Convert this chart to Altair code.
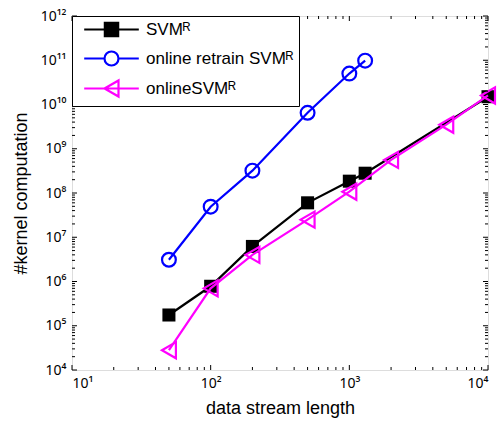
import altair as alt
import pandas as pd
import json

# ---------------- data ----------------
series_names = ["SVM\u1d3f", "online retrain SVM\u1d3f", "onlineSVM\u1d3f"]
series_colors = ["#000000", "#0000ff", "#ff00ff"]

x_svm = [50, 100, 200, 500, 1000, 1300, 10000]
y_svm = [1.75e5, 7.8e5, 6.2e6, 6.0e7, 1.85e8, 2.8e8, 1.5e10]

x_retrain = [50, 100, 200, 500, 1000, 1300]
y_retrain = [3.1e6, 4.9e7, 3.2e8, 6.5e9, 5.0e10, 9.8e10]

x_online = [50, 100, 200, 500, 1000, 2000, 5000, 10000]
y_online = [2.8e4, 7.0e5, 4.0e6, 2.5e7, 1.07e8, 5.6e8, 3.5e9, 1.6e10]

x_major = [10, 100, 1000, 10000]
x_tick_labels = ["10\u00b9", "10\u00b2", "10\u00b3", "10\u2074"]
y_major = [1e4, 1e5, 1e6, 1e7, 1e8, 1e9, 1e10, 1e11, 1e12]
y_tick_labels = ["10\u2074", "10\u2075", "10\u2076", "10\u2077", "10\u2078", "10\u2079",
                 "10\u00b9\u2070", "10\u00b9\u00b9", "10\u00b9\u00b2"]
minor_mult = [2, 3, 4, 5, 6, 7, 8, 9]

W, H = 416, 354

x_minor = [m * v for v in x_major[:-1] for m in minor_mult]
y_minor = [m * v for v in y_major[:-1] for m in minor_mult]

frames = []
for name, xs, ys in [(series_names[0], x_svm, y_svm),
                     (series_names[1], x_retrain, y_retrain),
                     (series_names[2], x_online, y_online)]:
    frames.append(pd.DataFrame({"series": name, "x": xs, "y": ys}))
df_all = pd.concat(frames, ignore_index=True)

xscale = alt.Scale(type="log", domain=[10, 10000], nice=False)
yscale = alt.Scale(type="log", domain=[1e4, 1e12], nice=False)

FONT = "Liberation Sans"
TICKFONT = "Noto Sans"

x_label_expr = "%s[round(log(datum.value)/LN10) - 1]" % json.dumps(x_tick_labels, ensure_ascii=False)
y_label_expr = "%s[round(log(datum.value)/LN10) - 4]" % json.dumps(y_tick_labels, ensure_ascii=False)

xaxis = alt.Axis(values=x_major, labelExpr=x_label_expr, ticks=False, domain=False, grid=False,
                 labelFontSize=14, labelFont=TICKFONT, labelColor="black", labelPadding=6,
                 title="data stream length", titleFontSize=18, titleFont=FONT,
                 titleFontWeight="normal", titleColor="black", titlePadding=9)
yaxis = alt.Axis(values=y_major, labelExpr=y_label_expr, ticks=False, domain=False, grid=False,
                 labelFontSize=14, labelFont=TICKFONT, labelColor="black", labelPadding=6,
                 title="#kernel computation", titleFontSize=18, titleFont=FONT,
                 titleFontWeight="normal", titleColor="black", titlePadding=10)

X = lambda f: alt.X(f, scale=xscale, axis=xaxis)
Y = lambda f: alt.Y(f, scale=yscale, axis=yaxis)

shapes = ["square", "circle", "triangle-left"]
fills = ["#000000", "white", "white"]
sizes = [170, 190, 260]

layers = []
for i, (name, xs, ys) in enumerate([(series_names[0], x_svm, y_svm),
                                    (series_names[1], x_retrain, y_retrain),
                                    (series_names[2], x_online, y_online)]):
    d = pd.DataFrame({"x": xs, "y": ys})
    base = alt.Chart(d).encode(x=X("x:Q"), y=Y("y:Q"))
    layers.append(base.mark_line(color=series_colors[i], strokeWidth=2.2))
    if i == 0:
        layers.append(base.mark_point(shape=shapes[i], size=sizes[i], filled=True,
                                      color=series_colors[i], opacity=1))
    else:
        layers.append(base.mark_point(shape=shapes[i], size=sizes[i], filled=False,
                                      color=series_colors[i], strokeWidth=2.2, opacity=1))

# legend layer (invisible marks, legend only)
legend_paths = [
    "M-3.9,0H3.9M-0.95,-0.95H0.95V0.95H-0.95Z",
    "M-3.9,0H-1M1,0H3.9M-1,0A1,1 0 1,0 1,0A1,1 0 1,0 -1,0Z",
    "M-3.9,0H3.9M-1,0L1,-1.15L1,1.15Z",
]
leg = alt.Legend(title=None, orient="top-left", offset=0, strokeColor="black", fillColor="white",
                 padding=5, symbolSize=196, symbolStrokeWidth=2.2, symbolOpacity=1,
                 symbolOffset=26, labelOffset=26, labelFontSize=17, labelFont=FONT,
                 labelColor="black", rowPadding=6, cornerRadius=0, symbolLimit=0,
                 labelLimit=300)
legend_layer = alt.Chart(df_all).mark_point(opacity=0, strokeWidth=2.2).encode(
    x=X("x:Q"),
    y=Y("y:Q"),
    shape=alt.Shape("series:N", scale=alt.Scale(domain=series_names, range=legend_paths), legend=leg),
    stroke=alt.Stroke("series:N", scale=alt.Scale(domain=series_names, range=series_colors), legend=leg),
    fill=alt.Fill("series:N", scale=alt.Scale(domain=series_names, range=fills), legend=leg),
)
layers.append(legend_layer)

# inward ticks (box style, all four sides)
def ticks(vals, length, side):
    d = pd.DataFrame({"v": vals})
    c = alt.Chart(d).mark_rule(color="black", strokeWidth=1)
    if side == "bottom":
        return c.encode(x=X("v:Q"), y=alt.value(H), y2=alt.value(H - length))
    if side == "top":
        return c.encode(x=X("v:Q"), y=alt.value(0), y2=alt.value(length))
    if side == "left":
        return c.encode(y=Y("v:Q"), x=alt.value(0), x2=alt.value(length))
    return c.encode(y=Y("v:Q"), x=alt.value(W), x2=alt.value(W - length))

tick_layers = []
for side in ["bottom", "top"]:
    tick_layers.append(ticks(x_major, 5, side))
    tick_layers.append(ticks(x_minor, 3, side))
for side in ["left", "right"]:
    tick_layers.append(ticks(y_major, 5, side))
    tick_layers.append(ticks(y_minor, 3, side))

chart = alt.layer(*(layers[:-1] + tick_layers + layers[-1:])).properties(
    width=W, height=H,
    autosize="none",
    padding={"left": 72, "top": 16, "right": 12, "bottom": 59},
).configure_view(stroke="black", strokeWidth=1.5).configure(background="white")

chart.save("out.html", embed_options={"renderer": "svg", "actions": False})
